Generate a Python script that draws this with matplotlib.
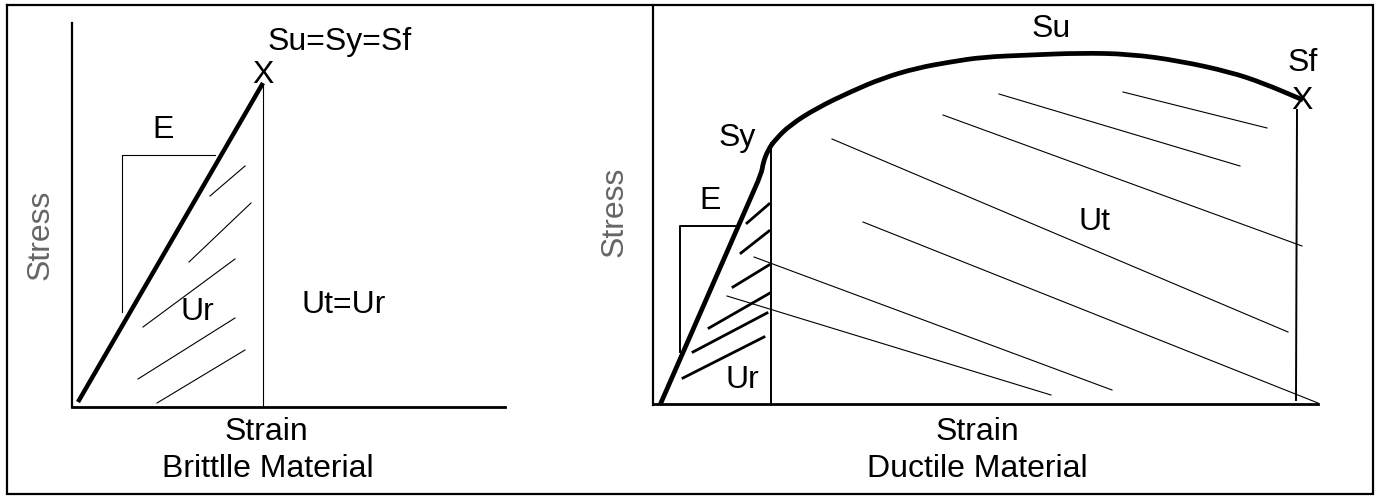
import matplotlib
matplotlib.use("Agg")
import matplotlib.pyplot as plt
from matplotlib.path import Path
from matplotlib.patches import PathPatch

# ---------------- data (pixel coordinates of the schematic, y downwards) ----------------
frame_x = [7, 1373, 1373, 7, 7]
frame_y = [4.5, 4.5, 493.5, 493.5, 4.5]

# Brittle material panel
brittle_yaxis_x = [72, 72]
brittle_yaxis_y = [23, 407]
brittle_xaxis_x = [72, 505]
brittle_xaxis_y = [407, 407]
brittle_curve_x = [78, 263]
brittle_curve_y = [402, 83]
brittle_fracture_x = [263, 263]
brittle_fracture_y = [85, 407]
brittle_E_x = [215, 122, 122]
brittle_E_y = [155, 155, 312]
brittle_hatch = [
    ((210, 196), (245, 166)),
    ((189, 262), (251, 203)),
    ((143, 327), (235, 259)),
    ((138, 379), (235, 318)),
    ((157, 403), (245, 350)),
]
brittle_labels = [
    ("Su=Sy=Sf", 340, 42),
    ("E", 163, 130),
    ("Ur", 197, 312),
    ("Ut=Ur", 344, 305),
    ("X", 263, 75),
    ("Strain", 266, 432),
    ("Brittlle Material", 268, 469),
]
brittle_ylabel = ("Stress", 41, 235)

# Ductile material panel
ductile_yaxis_x = [653, 653]
ductile_yaxis_y = [7, 405]
ductile_xaxis_x = [653, 1318]
ductile_xaxis_y = [404, 404]
ductile_curve_x = [660, 755, 761.7, 763, 768, 775, 790, 817, 850, 883, 917, 950,
                   983, 1030, 1080, 1130, 1180, 1230, 1263, 1303]
ductile_curve_y = [405, 188, 173, 163, 150, 140, 125, 108, 92, 78, 68, 62,
                   57, 55, 53, 54, 61, 72, 83, 100]
ductile_yield_x = [771, 771]
ductile_yield_y = [143, 405]
ductile_fracture_x = [1297, 1296]
ductile_fracture_y = [110, 400]
ductile_E_x = [737, 680, 680]
ductile_E_y = [226, 226, 352]
ductile_ur_hatch = [
    ((747, 223), (769, 204)),
    ((741, 253), (769, 231)),
    ((733, 287), (769, 265)),
    ((709, 328), (770, 293)),
    ((693, 352), (767, 313)),
    ((683, 378), (764, 337)),
]
ductile_ut_hatch = [
    ((1123, 92), (1267, 128)),
    ((999, 94), (1240, 166)),
    ((943, 115), (1302, 246)),
    ((832, 139), (1288, 332)),
    ((863, 222), (1318, 403)),
    ((754, 257), (1112, 390)),
    ((727, 296), (1051, 395)),
]
ductile_labels = [
    ("Su", 1051, 29),
    ("Sf", 1303, 63),
    ("X", 1302, 101),
    ("Sy", 737, 138),
    ("E", 710, 201),
    ("Ur", 742, 380),
    ("Ut", 1095, 222),
    ("Strain", 977, 432),
    ("Ductile Material", 977, 469),
]
ductile_ylabel = ("Stress", 615, 212)

# ---------------- drawing ----------------
W, H = 1381, 496
fig = plt.figure(figsize=(W / 100, H / 100), dpi=100)
ax = fig.add_axes([0, 0, 1, 1])
ax.set_xlim(0, W)
ax.set_ylim(H, 0)
ax.axis("off")

FONT = ["Liberation Sans", "DejaVu Sans"]
FS = 23
K = "black"


def smooth_path(xs, ys):
    """Straight first segment, then quadratic Bezier through midpoints."""
    pts = list(zip(xs, ys))
    verts = [pts[0], pts[1]]
    codes = [Path.MOVETO, Path.LINETO]
    for i in range(2, len(pts) - 1):
        mid = ((pts[i][0] + pts[i + 1][0]) / 2, (pts[i][1] + pts[i + 1][1]) / 2)
        verts += [pts[i], mid]
        codes += [Path.CURVE3, Path.CURVE3]
    verts.append(pts[-1])
    codes.append(Path.LINETO)
    return Path(verts, codes)


ax.plot(frame_x, frame_y, color=K, lw=1.6, solid_joinstyle="miter")

# Brittle
ax.plot(brittle_yaxis_x, brittle_yaxis_y, color=K, lw=1.6)
ax.plot(brittle_xaxis_x, brittle_xaxis_y, color=K, lw=2.0)
ax.plot(brittle_curve_x, brittle_curve_y, color=K, lw=3.2, solid_capstyle="butt")
ax.plot(brittle_fracture_x, brittle_fracture_y, color=K, lw=0.8)
ax.plot(brittle_E_x, brittle_E_y, color=K, lw=0.8)
for (x0, y0), (x1, y1) in brittle_hatch:
    ax.plot([x0, x1], [y0, y1], color=K, lw=0.8)
for s, x, y in brittle_labels:
    ax.text(x, y, s, family=FONT, fontsize=FS, ha="center", va="center")
s, x, y = brittle_ylabel
ax.text(x, y, s, family=FONT, fontsize=FS, ha="center", va="center",
        rotation=90, color="#666666")

# Ductile
ax.plot(ductile_yaxis_x, ductile_yaxis_y, color=K, lw=1.6)
ax.plot(ductile_xaxis_x, ductile_xaxis_y, color=K, lw=2.0)
ax.add_patch(PathPatch(smooth_path(ductile_curve_x, ductile_curve_y), fill=False,
                       edgecolor=K, lw=3.4, capstyle="butt", joinstyle="round"))
ax.plot(ductile_yield_x, ductile_yield_y, color=K, lw=1.4)
ax.plot(ductile_fracture_x, ductile_fracture_y, color=K, lw=1.4)
ax.plot(ductile_E_x, ductile_E_y, color=K, lw=1.4)
for (x0, y0), (x1, y1) in ductile_ur_hatch:
    ax.plot([x0, x1], [y0, y1], color=K, lw=2.0)
for (x0, y0), (x1, y1) in ductile_ut_hatch:
    ax.plot([x0, x1], [y0, y1], color=K, lw=0.8)
for s, x, y in ductile_labels:
    ax.text(x, y, s, family=FONT, fontsize=FS, ha="center", va="center")
s, x, y = ductile_ylabel
ax.text(x, y, s, family=FONT, fontsize=FS, ha="center", va="center",
        rotation=90, color="#666666")

fig.savefig("out.png", dpi=100, facecolor="white")
